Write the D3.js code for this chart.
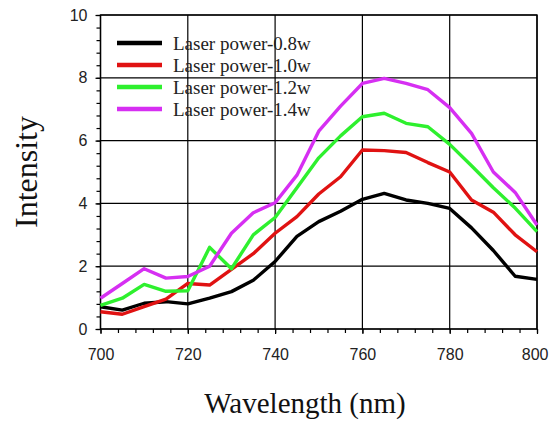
<!DOCTYPE html>
<html>
<head>
<meta charset="utf-8">
<script src="https://cdn.jsdelivr.net/npm/d3@7"></script>
<style>
  body { margin: 0; background: #fff; }
  svg { display: block; }
</style>
</head>
<body>
<div id="chart"></div>
<script>
// wavelengths (nm), one reading every 5 nm
const wavelengths = [700, 705, 710, 715, 720, 725, 730, 735, 740, 745, 750,
  755, 760, 765, 770, 775, 780, 785, 790, 795, 800];

const power08 = [0.71, 0.60, 0.82, 0.87, 0.80, 0.98, 1.19, 1.55, 2.15, 2.95, 3.42,
  3.75, 4.13, 4.32, 4.11, 4.00, 3.84, 3.22, 2.50, 1.68, 1.58];
const power10 = [0.55, 0.47, 0.71, 0.95, 1.45, 1.40, 1.90, 2.40, 3.05, 3.58, 4.30,
  4.85, 5.70, 5.68, 5.62, 5.30, 5.00, 4.11, 3.72, 3.00, 2.46];
const power12 = [0.75, 0.98, 1.42, 1.20, 1.22, 2.60, 1.92, 3.00, 3.55, 4.50, 5.45,
  6.15, 6.76, 6.87, 6.55, 6.44, 5.88, 5.20, 4.50, 3.85, 3.10];
const power14 = [0.98, 1.45, 1.92, 1.62, 1.67, 2.00, 3.05, 3.70, 4.02, 4.90, 6.30,
  7.10, 7.82, 7.98, 7.82, 7.62, 7.05, 6.23, 5.00, 4.35, 3.31];

const seriesNames = ['Laser power-0.8w', 'Laser power-1.0w', 'Laser power-1.2w', 'Laser power-1.4w'];
const seriesColors = ['#000000', '#e01212', '#2ef02e', '#d62ff2'];
const seriesValues = [power08, power10, power12, power14];

const xTicks = [700, 720, 740, 760, 780, 800];
const yTicks = [0, 2, 4, 6, 8, 10];

const width = 549, height = 427;
const margin = { left: 100.5, right: 12, top: 15, bottom: 98 };

const svg = d3.select('#chart').append('svg')
  .attr('width', width)
  .attr('height', height);

const x = d3.scaleLinear().domain([700, 800]).range([margin.left, width - margin.right]);
const y = d3.scaleLinear().domain([0, 10]).range([height - margin.bottom, margin.top]);

const plotW = x.range()[1] - x.range()[0];
const plotH = y.range()[0] - y.range()[1];

// gridlines
const grid = svg.append('g').attr('stroke', '#000').attr('stroke-width', 1.2);
grid.selectAll('.gx').data(xTicks).join('line')
  .attr('x1', d => x(d)).attr('x2', d => x(d))
  .attr('y1', y(0)).attr('y2', y(10));
grid.selectAll('.gy').data(yTicks).join('line')
  .attr('x1', x(700)).attr('x2', x(800))
  .attr('y1', d => y(d)).attr('y2', d => y(d));

// minor ticks
const minorX = d3.range(700, 801, 4);
const minorY = d3.range(0, 10.01, 0.4);
svg.append('g')
  .attr('transform', 'translate(0,' + y(0) + ')')
  .call(d3.axisBottom(x).tickValues(minorX).tickSize(4).tickFormat(''))
  .call(g => g.select('.domain').remove())
  .call(g => g.selectAll('line').attr('stroke-width', 1.2));
svg.append('g')
  .attr('transform', 'translate(' + x(700) + ',0)')
  .call(d3.axisLeft(y).tickValues(minorY).tickSize(4).tickFormat(''))
  .call(g => g.select('.domain').remove())
  .call(g => g.selectAll('line').attr('stroke-width', 1.2));

// major axes
const xAxis = svg.append('g')
  .attr('transform', 'translate(0,' + y(0) + ')')
  .call(d3.axisBottom(x).tickValues(xTicks).tickSize(5).tickPadding(15).tickFormat(d3.format('d')));
const yAxis = svg.append('g')
  .attr('transform', 'translate(' + x(700) + ',0)')
  .call(d3.axisLeft(y).tickValues(yTicks).tickSize(5).tickPadding(8).tickFormat(d3.format('d')));

[xAxis, yAxis].forEach(function(a) {
  a.select('.domain').remove();
  a.selectAll('line').attr('stroke-width', 1.2);
  a.selectAll('text')
    .attr('font-family', '"Liberation Sans", Arial, sans-serif')
    .attr('font-size', 16)
    .attr('fill', '#222');
});
// last x label sits against the right edge, as in the original
xAxis.selectAll('.tick text')
  .filter(d => d === 800)
  .attr('text-anchor', 'end')
  .attr('dx', 11);

// frame
svg.append('rect')
  .attr('x', x(700)).attr('y', y(10))
  .attr('width', plotW).attr('height', plotH)
  .attr('fill', 'none')
  .attr('stroke', '#000')
  .attr('stroke-width', 1.4);

// series lines
const line = d3.line()
  .x((d, i) => x(wavelengths[i]))
  .y(d => y(d));

svg.append('g').selectAll('path')
  .data(seriesValues)
  .join('path')
  .attr('d', d => line(d))
  .attr('fill', 'none')
  .attr('stroke', (d, i) => seriesColors[i])
  .attr('stroke-width', 3.4)
  .attr('stroke-linejoin', 'round');

// legend
const legend = svg.append('g');
const legendRows = legend.selectAll('g')
  .data(seriesNames)
  .join('g')
  .attr('transform', (d, i) => 'translate(117,' + (43 + i * 22) + ')');
legendRows.append('line')
  .attr('x1', 0).attr('x2', 45)
  .attr('stroke', (d, i) => seriesColors[i])
  .attr('stroke-width', 4.5);
legendRows.append('text')
  .attr('x', 56)
  .attr('y', 6.5)
  .attr('font-family', '"Liberation Serif", "Times New Roman", serif')
  .attr('font-size', 19)
  .attr('fill', '#222')
  .text(d => d);

// axis titles
svg.append('text')
  .attr('x', 305).attr('y', 413)
  .attr('text-anchor', 'middle')
  .attr('font-family', '"Liberation Serif", "Times New Roman", serif')
  .attr('font-size', 29)
  .attr('fill', '#111')
  .text('Wavelength (nm)');

svg.append('text')
  .attr('transform', 'translate(37,172) rotate(-90)')
  .attr('text-anchor', 'middle')
  .attr('font-family', '"Liberation Serif", "Times New Roman", serif')
  .attr('font-size', 32)
  .attr('fill', '#111')
  .text('Intensity');
</script>
</body>
</html>
